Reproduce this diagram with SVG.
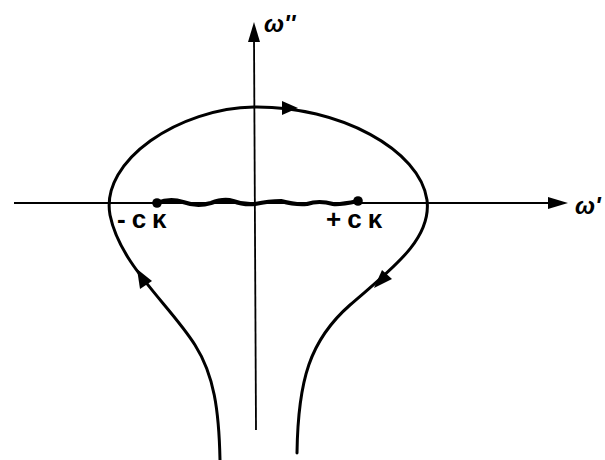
<svg xmlns="http://www.w3.org/2000/svg" width="605" height="460" viewBox="0 0 605 460">
<style>
.ax{stroke:#000;stroke-width:1.8;fill:none}
.ct{stroke:#000;stroke-width:3;fill:none;stroke-linecap:round}
.ah{fill:#000;stroke:none}
.lb{font-family:"Liberation Sans",Arial,sans-serif;font-size:26px;font-weight:bold;letter-spacing:6px;fill:#000}
.om{font-family:"Liberation Sans",Arial,sans-serif;font-size:24px;font-weight:bold;font-style:italic;fill:#000}
</style>
<rect width="605" height="460" fill="#fff"/>
<g id="connectors">
<line class="ax" x1="14" y1="203" x2="555" y2="203"/>
<polygon class="ah" points="568,203 548,197 548,209"/>
<path class="ax" d="M256 430 L254 36"/>
<polygon class="ah" points="254,22 248,42 260,42"/>
<path id="contour" class="ct" d="M220 460 C219 410 214 375 195 345 C170 305 120 265 110 215 C100 160 180 108 254 107 C340 106 420 150 427 200 C432 240 390 270 350 305 C310 340 298 380 297 453"/>
<polygon class="ah" points="298,108 282,101 282,115"/>
<polygon class="ah" points="137,269 140,289 152,281"/>
<polygon class="ah" points="374,288 382,270 392,279"/>
<path id="cut" d="M157 203 q 13 -5 26 -1 q 14 5 28 1 q 13 -5 22 -2 q 10 4 22 3 q 14 -3 26 -3 q 14 4 26 3 q 12 -4 26 0 q 6 1 25 -3" stroke="#000" stroke-width="4.2" fill="none"/>
</g>
<g id="minus-ck">
<circle cx="157" cy="203" r="4.8"/>
<text class="lb" x="117" y="228">-cκ</text>
</g>
<g id="plus-ck">
<circle cx="358" cy="201" r="4.8"/>
<text class="lb" x="326" y="228">+cκ</text>
</g>
<g id="omega-imag">
<text class="om" x="264" y="32">ω''</text>
</g>
<g id="omega-real">
<text class="om" x="575" y="214">ω'</text>
</g>
</svg>
